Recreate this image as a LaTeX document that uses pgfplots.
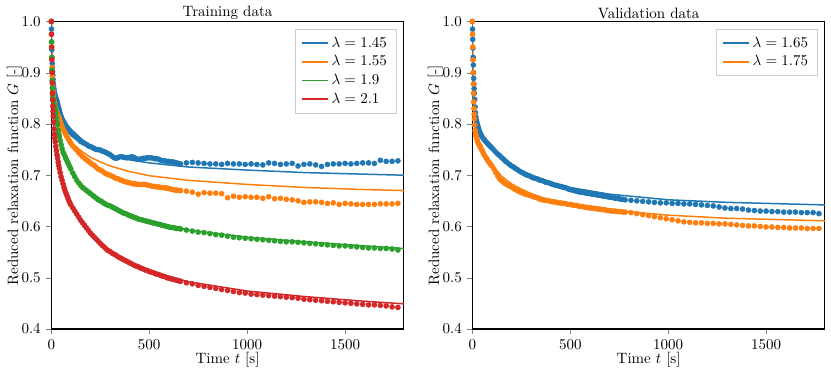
\documentclass[border=0pt]{standalone}
\usepackage{pgfplots}
\usepackage{pgfplotstable}
\pgfplotsset{compat=1.18}

\definecolor{tabblue}{HTML}{1F77B4}
\definecolor{taborange}{HTML}{FF7F0E}
\definecolor{tabgreen}{HTML}{2CA02C}
\definecolor{tabred}{HTML}{D62728}

% measured points, training set (t, lambda=1.45, 1.55, 1.9, 2.1)
\pgfplotstableread{
t b o g r
0 1.000 1.000 1.000 1.000
1 0.985 0.975 0.960 0.975
2 0.960 0.950 0.930 0.950
3 0.945 0.930 0.905 0.925
4 0.930 0.910 0.885 0.900
5 0.918 0.893 0.870 0.880
6 0.910 0.880 0.860 0.860
7 0.902 0.872 0.855 0.847
8 0.895 0.865 0.850 0.835
9 0.887 0.860 0.847 0.825
10 0.880 0.855 0.845 0.815
12 0.874 0.849 0.840 0.803
14 0.868 0.843 0.836 0.790
16 0.862 0.840 0.833 0.780
18 0.858 0.835 0.830 0.772
20 0.855 0.830 0.826 0.765
23 0.851 0.828 0.820 0.756
26 0.848 0.825 0.812 0.748
29 0.845 0.821 0.803 0.740
32 0.840 0.818 0.798 0.734
35 0.835 0.815 0.788 0.726
38 0.831 0.813 0.781 0.719
41 0.827 0.811 0.776 0.713
45 0.821 0.806 0.768 0.705
50 0.815 0.800 0.760 0.697
55 0.810 0.795 0.752 0.690
60 0.806 0.790 0.745 0.683
65 0.803 0.786 0.741 0.676
70 0.800 0.783 0.737 0.670
75 0.796 0.779 0.732 0.665
80 0.793 0.775 0.728 0.660
85 0.791 0.772 0.724 0.655
90 0.788 0.769 0.720 0.650
95 0.786 0.765 0.716 0.646
100 0.783 0.762 0.712 0.642
110 0.779 0.757 0.704 0.636
120 0.776 0.753 0.697 0.630
130 0.773 0.749 0.690 0.624
140 0.770 0.744 0.685 0.618
150 0.766 0.740 0.680 0.612
160 0.764 0.736 0.676 0.607
170 0.762 0.733 0.673 0.602
180 0.760 0.730 0.670 0.597
190 0.757 0.727 0.667 0.592
200 0.756 0.724 0.664 0.587
210 0.754 0.721 0.661 0.583
220 0.752 0.719 0.658 0.579
230 0.750 0.715 0.655 0.575
240 0.750 0.712 0.652 0.571
250 0.749 0.710 0.650 0.567
260 0.747 0.708 0.648 0.563
270 0.746 0.705 0.645 0.560
280 0.744 0.703 0.643 0.556
290 0.742 0.701 0.641 0.553
300 0.740 0.700 0.640 0.551
310 0.737 0.698 0.638 0.548
320 0.734 0.696 0.636 0.546
330 0.733 0.694 0.634 0.544
340 0.734 0.693 0.632 0.541
350 0.736 0.691 0.630 0.539
360 0.736 0.690 0.628 0.537
370 0.735 0.688 0.626 0.535
380 0.734 0.687 0.625 0.533
390 0.734 0.686 0.623 0.531
400 0.735 0.685 0.621 0.529
410 0.736 0.684 0.620 0.527
420 0.735 0.683 0.618 0.525
430 0.733 0.683 0.617 0.523
440 0.731 0.682 0.615 0.522
450 0.731 0.682 0.614 0.520
460 0.732 0.682 0.613 0.518
470 0.733 0.682 0.612 0.517
480 0.733 0.682 0.611 0.515
490 0.734 0.681 0.610 0.514
500 0.734 0.680 0.609 0.512
510 0.734 0.679 0.608 0.511
520 0.733 0.678 0.607 0.510
530 0.732 0.678 0.606 0.508
540 0.732 0.677 0.605 0.507
550 0.731 0.677 0.604 0.506
560 0.729 0.676 0.603 0.504
570 0.728 0.676 0.602 0.503
580 0.728 0.675 0.601 0.502
590 0.727 0.675 0.600 0.500
600 0.727 0.674 0.599 0.499
610 0.726 0.673 0.598 0.498
620 0.726 0.672 0.598 0.497
630 0.725 0.671 0.597 0.496
640 0.724 0.671 0.596 0.495
650 0.723 0.670 0.596 0.494
660 0.722 0.670 0.595 0.493
690 0.724 0.669 0.593 0.490
720 0.725 0.667 0.591 0.488
750 0.724 0.663 0.589 0.485
780 0.723 0.666 0.588 0.483
810 0.722 0.665 0.586 0.481
840 0.722 0.665 0.584 0.479
870 0.721 0.664 0.583 0.477
900 0.723 0.656 0.581 0.475
930 0.722 0.659 0.579 0.473
960 0.722 0.657 0.578 0.471
990 0.721 0.658 0.577 0.470
1020 0.722 0.657 0.576 0.468
1050 0.721 0.657 0.575 0.467
1080 0.720 0.655 0.574 0.466
1110 0.724 0.658 0.573 0.465
1140 0.723 0.654 0.572 0.464
1170 0.721 0.655 0.571 0.463
1200 0.722 0.653 0.570 0.462
1230 0.723 0.652 0.570 0.461
1260 0.718 0.650 0.569 0.460
1290 0.721 0.647 0.568 0.458
1320 0.722 0.648 0.567 0.457
1350 0.720 0.648 0.566 0.456
1380 0.717 0.647 0.565 0.455
1410 0.721 0.645 0.564 0.454
1440 0.722 0.646 0.563 0.453
1470 0.722 0.643 0.562 0.452
1500 0.723 0.645 0.562 0.451
1530 0.722 0.644 0.561 0.450
1560 0.723 0.643 0.560 0.449
1590 0.724 0.643 0.559 0.448
1620 0.724 0.643 0.558 0.447
1650 0.723 0.643 0.558 0.447
1680 0.729 0.644 0.557 0.446
1710 0.727 0.644 0.557 0.445
1740 0.727 0.644 0.556 0.443
1770 0.728 0.645 0.554 0.442
}\traindata

% fitted curves, training set
\pgfplotstableread{
t b o g r
0 1.000 1.000 1.000 1.000
1 0.950 0.945 0.930 0.955
2 0.930 0.920 0.900 0.930
3 0.910 0.895 0.875 0.905
5 0.890 0.870 0.860 0.870
7 0.878 0.857 0.850 0.845
10 0.865 0.845 0.840 0.815
15 0.853 0.833 0.830 0.785
20 0.845 0.825 0.820 0.765
30 0.833 0.811 0.800 0.737
40 0.823 0.800 0.780 0.715
50 0.815 0.792 0.760 0.697
70 0.803 0.780 0.737 0.668
100 0.790 0.765 0.712 0.641
150 0.772 0.748 0.682 0.609
200 0.757 0.735 0.664 0.587
250 0.748 0.726 0.651 0.569
300 0.740 0.718 0.640 0.553
400 0.730 0.707 0.622 0.530
500 0.724 0.699 0.610 0.514
700 0.716 0.690 0.593 0.492
1000 0.710 0.682 0.579 0.474
1300 0.705 0.676 0.570 0.463
1600 0.702 0.672 0.562 0.454
1800 0.700 0.670 0.557 0.449
}\trainfit

% measured points, validation set (lambda=1.65, 1.75)
\pgfplotstableread{
t b o
0 1.000 1.000
1 0.985 0.975
2 0.965 0.950
3 0.948 0.925
4 0.930 0.900
5 0.915 0.878
6 0.900 0.860
7 0.889 0.843
8 0.878 0.830
9 0.869 0.819
10 0.860 0.810
12 0.848 0.798
14 0.833 0.787
16 0.822 0.782
18 0.814 0.778
20 0.808 0.775
23 0.803 0.771
26 0.799 0.767
29 0.795 0.764
32 0.791 0.761
35 0.787 0.759
38 0.784 0.757
41 0.781 0.755
45 0.778 0.751
50 0.775 0.748
55 0.772 0.744
60 0.770 0.740
65 0.767 0.737
70 0.765 0.734
75 0.763 0.731
80 0.761 0.728
85 0.759 0.725
90 0.757 0.723
95 0.755 0.720
100 0.753 0.718
110 0.749 0.712
120 0.745 0.705
130 0.741 0.698
140 0.738 0.692
150 0.734 0.689
160 0.731 0.686
170 0.727 0.683
180 0.724 0.681
190 0.721 0.679
200 0.718 0.677
210 0.716 0.674
220 0.713 0.672
230 0.711 0.670
240 0.708 0.668
250 0.706 0.666
260 0.704 0.665
270 0.702 0.663
280 0.700 0.662
290 0.699 0.661
300 0.697 0.660
310 0.695 0.658
320 0.694 0.657
330 0.693 0.656
340 0.691 0.654
350 0.690 0.653
360 0.689 0.652
370 0.687 0.651
380 0.686 0.651
390 0.685 0.650
400 0.684 0.649
410 0.682 0.648
420 0.681 0.648
430 0.680 0.647
440 0.679 0.646
450 0.678 0.646
460 0.677 0.645
470 0.676 0.645
480 0.675 0.644
490 0.673 0.643
500 0.672 0.643
510 0.671 0.642
520 0.670 0.641
530 0.669 0.641
540 0.668 0.640
550 0.667 0.639
560 0.667 0.639
570 0.666 0.638
580 0.665 0.637
590 0.665 0.637
600 0.664 0.636
610 0.663 0.636
620 0.663 0.635
630 0.662 0.635
640 0.661 0.634
650 0.661 0.634
660 0.660 0.633
670 0.659 0.633
680 0.659 0.632
690 0.658 0.631
700 0.657 0.631
710 0.657 0.630
720 0.656 0.630
730 0.655 0.630
740 0.655 0.629
750 0.654 0.629
760 0.653 0.629
770 0.653 0.628
780 0.652 0.628
810 0.651 0.627
840 0.650 0.625
870 0.649 0.623
900 0.648 0.621
930 0.647 0.619
960 0.646 0.617
990 0.646 0.615
1020 0.645 0.613
1050 0.645 0.611
1080 0.644 0.609
1110 0.644 0.608
1140 0.643 0.607
1170 0.642 0.607
1200 0.641 0.606
1230 0.640 0.606
1260 0.638 0.605
1290 0.636 0.605
1320 0.635 0.604
1350 0.635 0.603
1380 0.634 0.602
1410 0.632 0.601
1440 0.631 0.601
1470 0.630 0.600
1500 0.630 0.599
1530 0.629 0.599
1560 0.629 0.598
1590 0.628 0.598
1620 0.628 0.597
1650 0.628 0.597
1680 0.627 0.597
1710 0.627 0.596
1740 0.627 0.596
1770 0.625 0.596
}\valdata

% fitted curves, validation set
\pgfplotstableread{
t b o
0 1.000 1.000
1 0.955 0.945
2 0.930 0.900
3 0.905 0.870
5 0.880 0.840
7 0.860 0.822
10 0.840 0.805
15 0.820 0.790
20 0.808 0.780
30 0.795 0.768
40 0.785 0.758
50 0.778 0.750
70 0.765 0.735
100 0.752 0.720
150 0.735 0.698
200 0.720 0.683
250 0.709 0.673
300 0.700 0.664
400 0.686 0.651
500 0.676 0.642
700 0.663 0.632
1000 0.652 0.622
1300 0.647 0.616
1600 0.644 0.613
1800 0.642 0.611
}\valfit

\pgfplotsset{
  relax/.style={
    scale only axis,
    width=235pt, height=205pt,
    xmin=0, xmax=1800, ymin=0.4, ymax=1.0,
    xtick={0,500,1000,1500},
    ytick={0.4,0.5,0.6,0.7,0.8,0.9,1.0},
    xticklabel style={/pgf/number format/set thousands separator={}},
    yticklabel style={/pgf/number format/.cd, fixed, fixed zerofill, precision=1},
    tick pos=left, tick align=outside,
    major tick length=3.5pt,
    axis line style={line width=0.8pt},
    xlabel={Time $t$ [s]},
    ylabel={Reduced relaxation function $G$ [-]},
    xlabel style={yshift=5pt},
    ylabel style={yshift=-7pt},
    title style={yshift=-8pt},
    legend style={at={(1,1)}, anchor=north east, xshift=-5pt, yshift=-5pt,
      draw=black!20, inner xsep=4pt, inner ysep=3pt},
    legend cell align=left,
  },
  dots/.style={only marks, mark=*, mark size=1.65pt, color=#1, forget plot},
  fit/.style={color=#1, line width=1pt, no marks, forget plot},
}

\begin{document}
\begin{tikzpicture}
\useasboundingbox (-34.2pt,-31.3pt) rectangle (519.8pt,219.3pt);
\begin{axis}[relax, at={(0pt,0pt)}, anchor=south west, title={Training data}]
  \addlegendimage{tabblue, line width=1.1pt}
  \addlegendentry{$\lambda = 1.45$}
  \addlegendimage{taborange, line width=1.1pt}
  \addlegendentry{$\lambda = 1.55$}
  \addlegendimage{tabgreen, line width=1.1pt}
  \addlegendentry{$\lambda = 1.9$}
  \addlegendimage{tabred, line width=1.1pt}
  \addlegendentry{$\lambda = 2.1$}
  \addplot[dots=tabblue] table[x=t, y=b] {\traindata};
  \addplot[fit=tabblue] table[x=t, y=b] {\trainfit};
  \addplot[dots=taborange] table[x=t, y=o] {\traindata};
  \addplot[fit=taborange] table[x=t, y=o] {\trainfit};
  \addplot[dots=tabgreen] table[x=t, y=g] {\traindata};
  \addplot[fit=tabgreen] table[x=t, y=g] {\trainfit};
  \addplot[dots=tabred] table[x=t, y=r] {\traindata};
  \addplot[fit=tabred] table[x=t, y=r] {\trainfit};
\end{axis}
\begin{axis}[relax, at={(280.7pt,0pt)}, anchor=south west, title={Validation data}]
  \addlegendimage{tabblue, line width=1.1pt}
  \addlegendentry{$\lambda = 1.65$}
  \addlegendimage{taborange, line width=1.1pt}
  \addlegendentry{$\lambda = 1.75$}
  \addplot[dots=tabblue] table[x=t, y=b] {\valdata};
  \addplot[fit=tabblue] table[x=t, y=b] {\valfit};
  \addplot[dots=taborange] table[x=t, y=o] {\valdata};
  \addplot[fit=taborange] table[x=t, y=o] {\valfit};
\end{axis}
\end{tikzpicture}
\end{document}
